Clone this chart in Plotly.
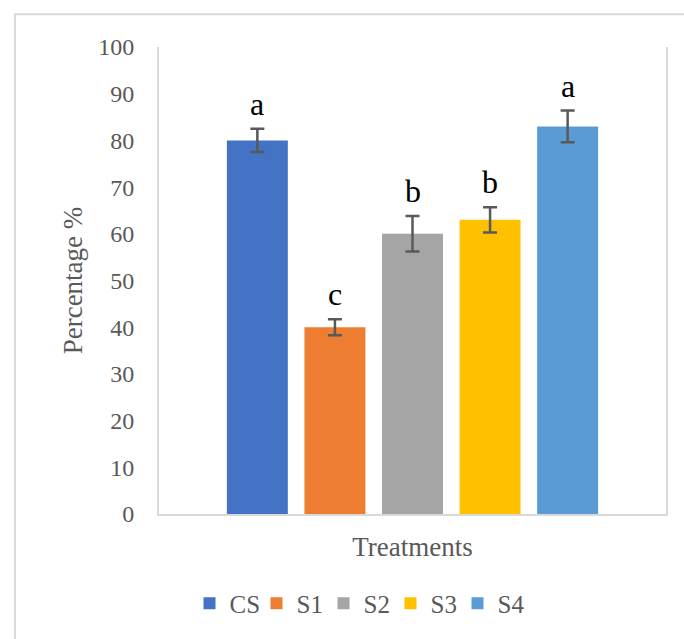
import plotly.graph_objects as go

treatments = ["CS", "S1", "S2", "S3", "S4"]
values = [80, 40, 60, 63, 83]
errors = [2.5, 1.7, 3.8, 2.7, 3.4]
letters = ["a", "c", "b", "b", "a"]
colors = ["#4472C4", "#ED7D31", "#A5A5A5", "#FFC000", "#5B9BD5"]
y_ticks = list(range(0, 101, 10))

SERIF = "Liberation Serif"
BARGAP = 0.235

fig = go.Figure()
for name, v, e, c in zip(treatments, values, errors, colors):
    fig.add_trace(go.Bar(
        x=["Treatments"], y=[v], name=name,
        marker=dict(color=c, line=dict(width=0)),
        error_y=dict(type="data", array=[e], visible=True,
                     color="#595959", thickness=2.5, width=7),
    ))

# significance letters above error bars
n = len(treatments)
for i, (v, e, lab) in enumerate(zip(values, errors, letters)):
    xoff = (i - (n - 1) / 2) / n * (1 - BARGAP)
    fig.add_annotation(
        x=xoff, xref="x", y=v + e, yref="y", text=lab, showarrow=False,
        yanchor="bottom", yshift=5,
        font=dict(family=SERIF, size=32, color="#000000"),
    )

fig.update_layout(
    width=684, height=639,
    paper_bgcolor="white", plot_bgcolor="white",
    margin=dict(l=159, r=18, t=47, b=122),
    barmode="group", bargap=BARGAP, bargroupgap=0.214,
    showlegend=True,
    legend=dict(orientation="h", x=(357 - 159) / 507, xanchor="center",
                y=(517 - 607) / 470, yanchor="middle",
                font=dict(family=SERIF, size=25, color="#595959"),
                itemwidth=30, entrywidth=22, traceorder="normal"),
    font=dict(family=SERIF, color="#595959"),
)
fig.update_xaxes(
    type="category", showticklabels=False, showgrid=False,
    showline=True, linecolor="#d9d9d9", linewidth=2, mirror=False,
    range=[-0.5, 0.5],
    title=dict(text="Treatments", font=dict(family=SERIF, size=27, color="#595959"), standoff=22),
)
fig.update_yaxes(
    range=[0, 100], tickvals=y_ticks, ticktext=[str(t) for t in y_ticks],
    showgrid=False, zeroline=False,
    showline=True, linecolor="#d9d9d9", linewidth=2, mirror=True,
    tickfont=dict(family=SERIF, size=24, color="#595959"),
    ticklabelstandoff=18,
    title=dict(text="Percentage %", font=dict(family=SERIF, size=27, color="#595959"), standoff=8),
)
# outer chart frame
fig.add_shape(type="rect", xref="paper", yref="paper",
              x0=(15 - 159) / 507, x1=(700 - 159) / 507,
              y0=(517 - 700) / 470, y1=(517 - 14) / 470,
              line=dict(color="#d9d9d9", width=2), fillcolor="rgba(0,0,0,0)", layer="below")

fig.write_html("out.html", config={"displayModeBar": False},
               post_script="document.body.style.margin='0px';")
